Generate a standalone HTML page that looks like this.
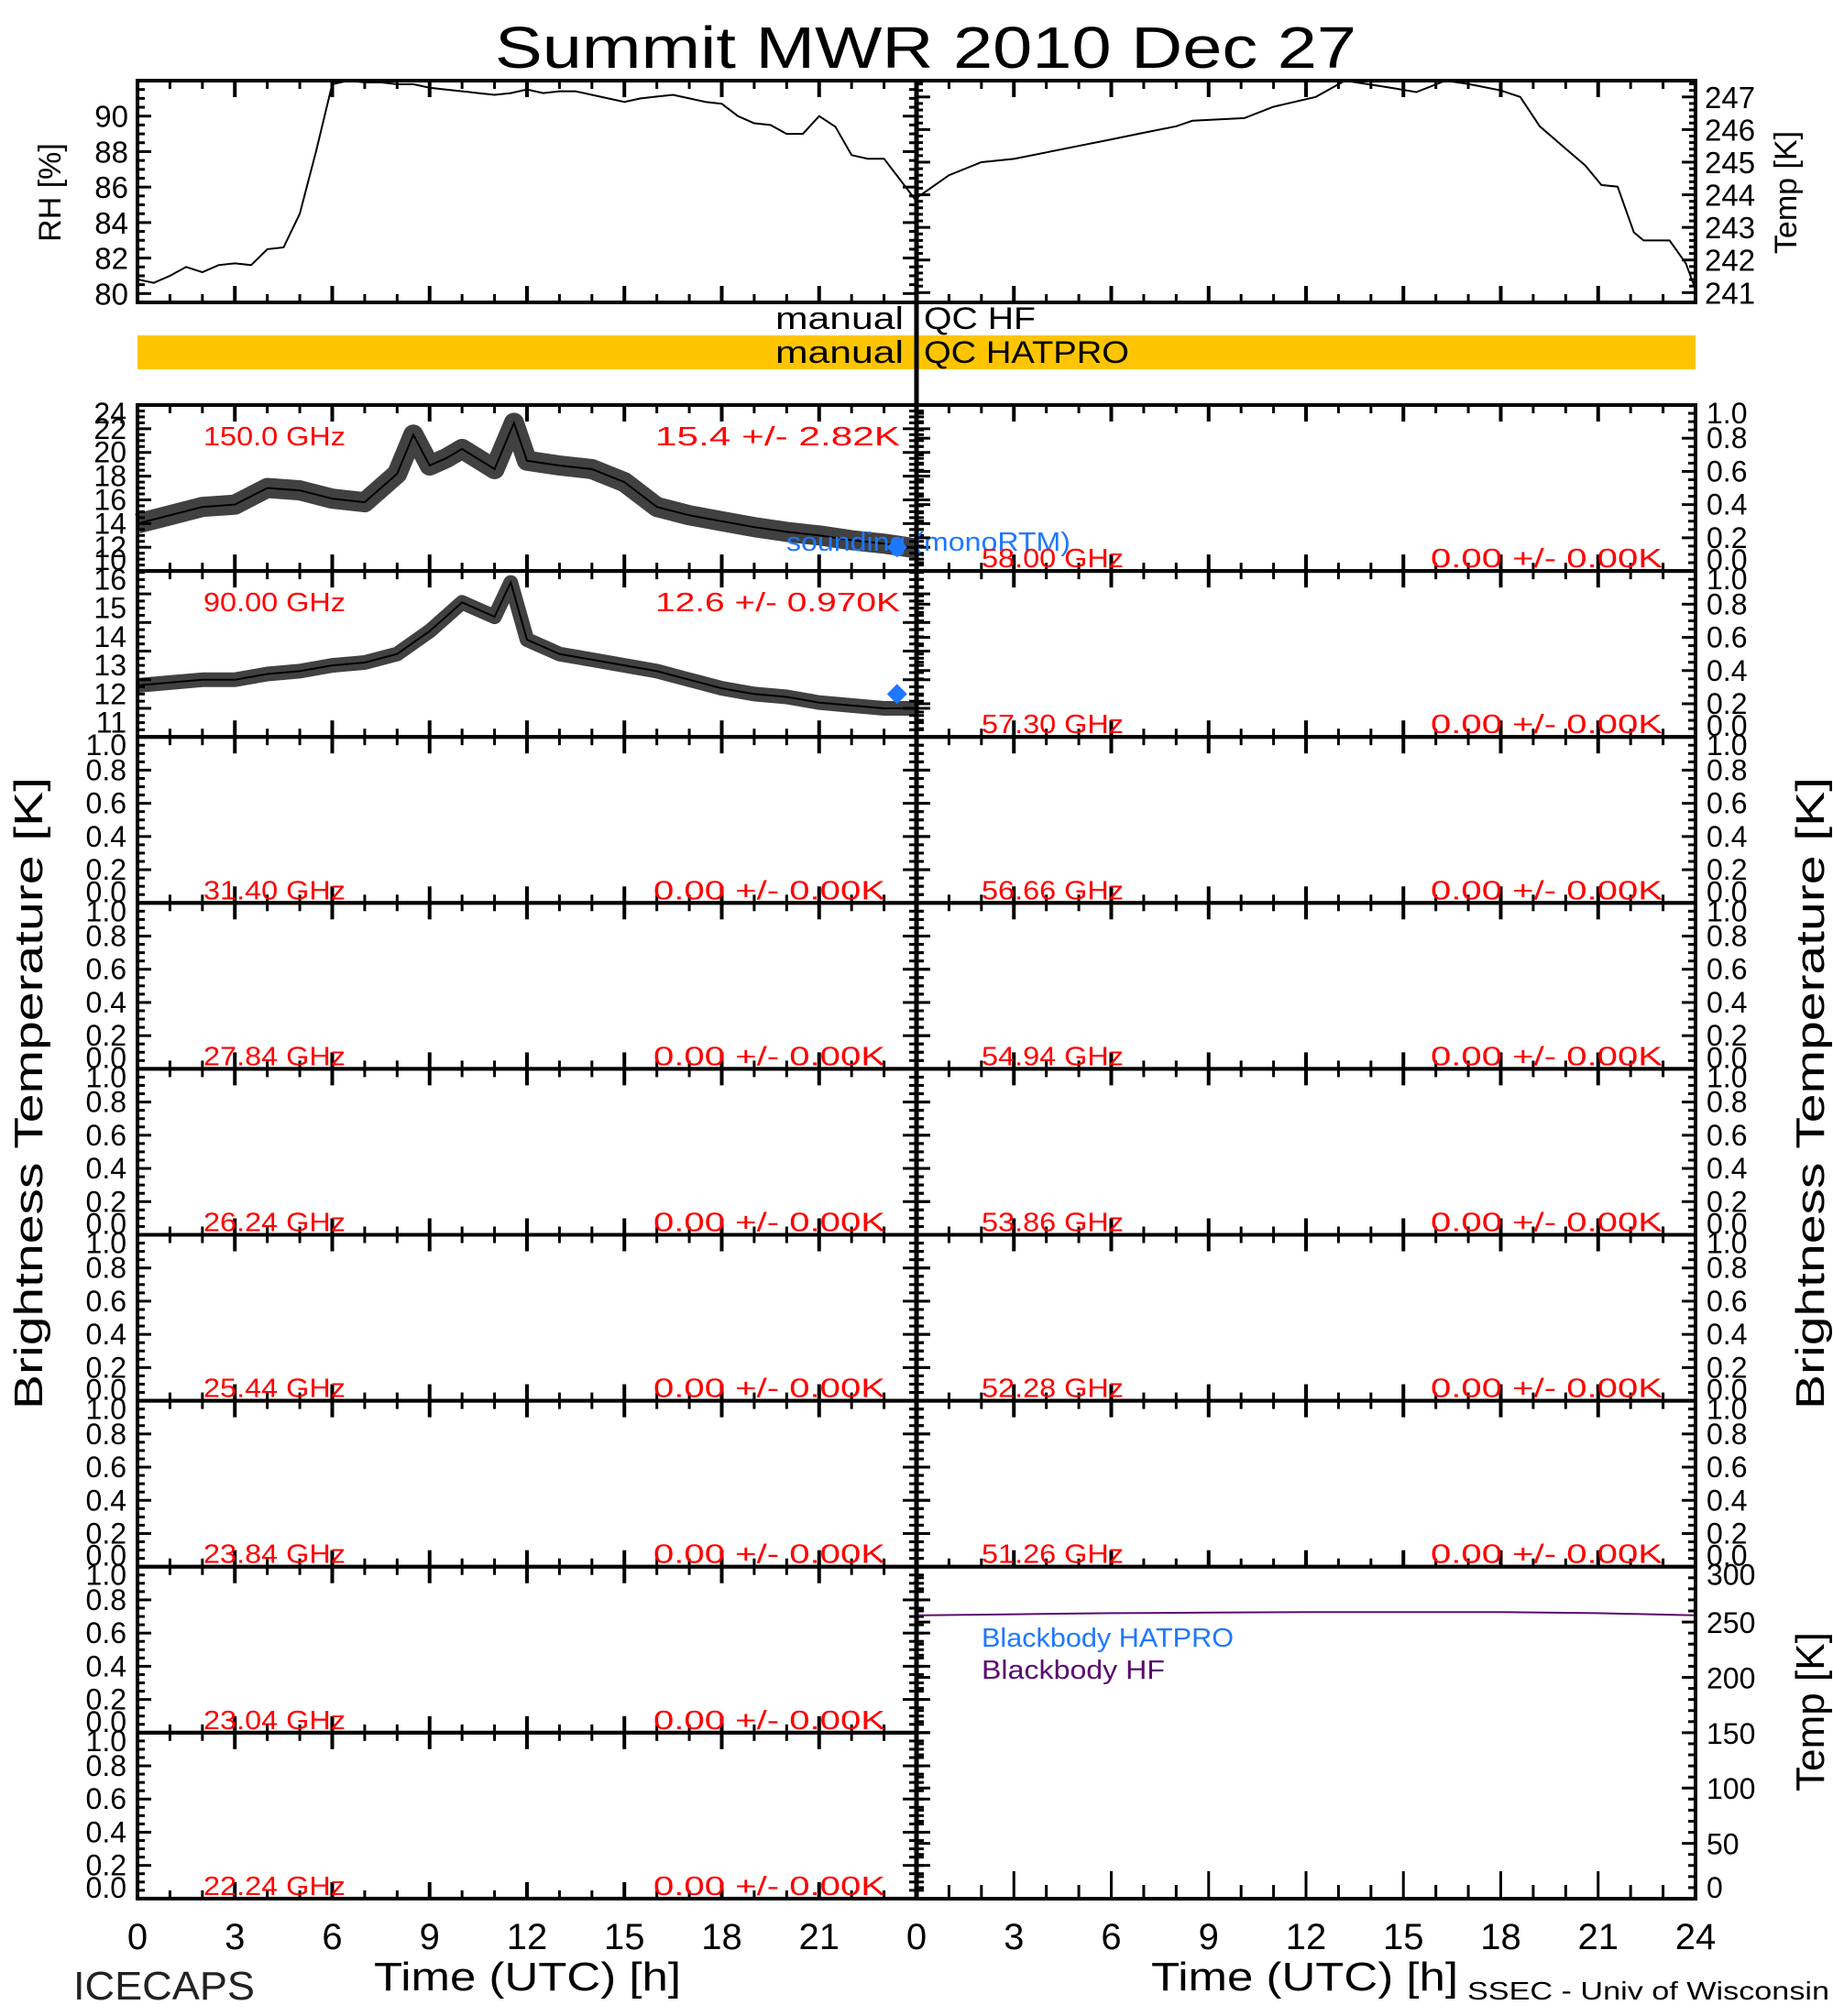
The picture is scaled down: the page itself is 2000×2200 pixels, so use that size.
<!DOCTYPE html>
<html><head><meta charset="utf-8"><style>
html,body{margin:0;padding:0;background:#fff;}
svg{display:block;}
text{font-family:"Liberation Sans",sans-serif;}
</style></head><body>
<svg id="chart" xmlns="http://www.w3.org/2000/svg" width="2000" height="2200" viewBox="0 0 2000 2200">
<rect width="2000" height="2200" fill="#fff"/>
<text x="540" y="74" font-size="64" textLength="940" lengthAdjust="spacingAndGlyphs">Summit  MWR  2010  Dec  27</text>
<g id="g"></g>
</svg>
<script>
// ---- data ----
const rhHours = [0,0.5,1,1.5,2,2.5,3,3.5,4,4.5,5,5.5,6,6.5,7,7.5,8,8.5,9,9.5,10,10.5,11,11.5,12,12.5,13,13.5,14,14.5,15,15.5,16,16.5,17,17.5,18,18.5,19,19.5,20,20.5,21,21.5,22,22.5,23,23.5,24];
const rhValues = [80.8,80.6,81.0,81.5,81.2,81.6,81.7,81.6,82.5,82.6,84.5,88.0,91.8,92.0,91.9,91.9,91.8,91.8,91.6,91.5,91.4,91.3,91.2,91.3,91.5,91.3,91.4,91.4,91.2,91.0,90.8,91.0,91.1,91.2,91.0,90.8,90.7,90.0,89.6,89.5,89.0,89.0,90.0,89.4,87.8,87.6,87.6,86.4,85.2];
const tempHours = [0,1,2,3,4,5,6,7,8,8.5,10.1,11,12.3,13.2,14.5,15.4,16.3,17,18,18.6,19.2,19.9,20.6,21.1,21.6,22.1,22.4,23.2,23.7,24];
const tempValues = [243.9,244.6,245.0,245.1,245.3,245.5,245.7,245.9,246.1,246.27,246.35,246.7,247.0,247.5,247.3,247.15,247.5,247.4,247.2,247.0,246.1,245.5,244.9,244.3,244.25,242.85,242.6,242.6,241.9,241.1];
const tb150Hours = [0,1,2,3,4,5,6,7,8,8.5,9,9.5,10,11,11.6,12,13,14,15,16,17,18,19,20,21,22,23,24];
const tb150Values = [14.0,14.7,15.4,15.6,17.0,16.8,16.1,15.8,18.2,21.5,18.9,19.5,20.3,18.6,22.5,19.3,18.9,18.6,17.5,15.4,14.7,14.2,13.7,13.3,13.0,12.6,12.3,11.9];
const tb90Hours = [0,1,2,3,4,5,6,7,8,9,10,11,11.5,12,13,14,15,16,17,18,19,20,21,22,23,24];
const tb90Values = [12.3,12.4,12.5,12.5,12.7,12.8,13.0,13.1,13.4,14.2,15.2,14.7,15.9,13.9,13.4,13.2,13.0,12.8,12.5,12.2,12.0,11.9,11.7,11.6,11.5,11.5];
const bbHours = [0,3,6,9,12,15,18,21,24];
const bbHfValues = [256,257,258,258.5,259,259,259,258,256];
const bbHatproValues = [0,0,0,0,0,0,0,0,0];
const leftFreqs = ["150.0 GHz","90.00 GHz","31.40 GHz","27.84 GHz","26.24 GHz","25.44 GHz","23.84 GHz","23.04 GHz","22.24 GHz"];
const leftStats = ["15.4 +/-  2.82K","12.6 +/- 0.970K","0.00 +/- 0.00K","0.00 +/- 0.00K","0.00 +/- 0.00K","0.00 +/- 0.00K","0.00 +/- 0.00K","0.00 +/- 0.00K","0.00 +/- 0.00K"];
const rightFreqs = ["58.00 GHz","57.30 GHz","56.66 GHz","54.94 GHz","53.86 GHz","52.28 GHz","51.26 GHz"];
const soundingHour = 23.4;
const sounding150 = 12.0;
const sounding90 = 12.0;
const xTickLabelsLeft = ["0","3","6","9","12","15","18","21"];
const xTickLabelsRight = ["0","3","6","9","12","15","18","21","24"];

// ---- layout ----
const NS="http://www.w3.org/2000/svg";
const G=document.getElementById('g');
const XL0=150, XL1=1000, XR0=1000, XR1=1850;
const P0=442, PH=181.1;
function el(tag,attrs,parent){const e=document.createElementNS(NS,tag);for(const k in attrs)e.setAttribute(k,attrs[k]);(parent||G).appendChild(e);return e;}
function txt(s,attrs){const e=el('text',attrs);e.textContent=s;return e;}
function xs(x0,x1){return h=>x0+(x1-x0)*h/24;}
function ys(top,bot,v0,v1){return v=>bot-(bot-top)*(v-v0)/(v1-v0);}
function line(x1,y1,x2,y2,w,c){return el('line',{x1,y1,x2,y2,stroke:c||'#000','stroke-width':w||3});}

function frame(x0,x1,top,bot,name){
  const r=el('rect',{x:x0,y:top,width:x1-x0,height:bot-top,fill:'none',stroke:'#000','stroke-width':4});
  
  
}
function xTicks(x0,x1,top,bot){
  const sx=xs(x0,x1);
  for(let h=0;h<=24;h++){
    const maj=h%3===0, L=maj?18:9;
    line(sx(h),top,sx(h),top+L,maj?4:3);
    line(sx(h),bot,sx(h),bot-L,maj?4:3);
  }
}
function yTicks(xa,dir,top,bot,v0,v1,majStep,minStep){
  const sy=ys(top,bot,v0,v1);
  const n=Math.round((v1-v0)/minStep);
  for(let i=0;i<=n;i++){
    const v=v0+i*minStep;
    const maj=Math.abs((v-v0)/majStep-Math.round((v-v0)/majStep))<1e-6;
    const L=maj?15:8;
    line(xa,sy(v),xa+dir*L,sy(v),3);
  }
}
function polyline(hours,vals,sx,sy,attrs,name){
  const pts=hours.map((h,i)=>sx(h).toFixed(1)+','+sy(vals[i]).toFixed(1)).join(' ');
  const p=el('polyline',Object.assign({points:pts,fill:'none'},attrs));
  
  
  return p;
}

// ---- RH panel ----
(function(){
  const top=88,bot=330;
  const sx=xs(XL0,XL1), sy=ys(top,bot,79.5,92.0);
  polyline(rhHours,rhValues,sx,sy,{stroke:'#000','stroke-width':2},'rh-line');
  frame(XL0,XL1,top,bot,'rh-panel');
  xTicks(XL0,XL1,top,bot);
  for(let v=80;v<=92;v+=0.5){const maj=v%2===0;line(XL0,sy(v),XL0+(maj?15:8),sy(v),3);line(XL1,sy(v),XL1-(maj?15:8),sy(v),3);}
  for(let v=80;v<=90;v+=2){const t=txt(String(v),{x:140,y:sy(v)+12,'font-size':33,'text-anchor':'end'});}
  const t=txt('RH [%]',{x:0,y:0,'font-size':34,'text-anchor':'middle',transform:'translate(66,210) rotate(-90)'});
  
})();
// ---- Temp panel ----
(function(){
  const top=88,bot=330;
  const sx=xs(XR0,XR1), sy=ys(top,bot,240.7,247.5);
  polyline(tempHours,tempValues,sx,sy,{stroke:'#000','stroke-width':2},'temp-line');
  frame(XR0,XR1,top,bot,'temp-panel');
  xTicks(XR0,XR1,top,bot);
  for(let v=241;v<=247.4;v+=0.2){const maj=Math.abs(v-Math.round(v))<1e-6;line(XR1,sy(v),XR1-(maj?15:7),sy(v),3);line(XR0,sy(v),XR0+(maj?15:7),sy(v),3);}
  for(let v=241;v<=247;v++){const t=txt(String(v),{x:1860,y:sy(v)+12,'font-size':33});}
  const t=txt('Temp [K]',{x:0,y:0,'font-size':34,'text-anchor':'middle',transform:'translate(1960,210) rotate(-90)'});
  
})();
// ---- QC bars ----
(function(){
  const b=el('rect',{x:150,y:366,width:1700,height:37,fill:'#fdc500'});
  
  let t=txt('manual',{x:986,y:359,'font-size':34,'text-anchor':'end',textLength:140,lengthAdjust:'spacingAndGlyphs'});
  t=txt('QC  HF',{x:1008,y:359,'font-size':34,textLength:122,lengthAdjust:'spacingAndGlyphs'});
  t=txt('manual',{x:986,y:396,'font-size':34,'text-anchor':'end',textLength:140,lengthAdjust:'spacingAndGlyphs'});
  t=txt('QC  HATPRO',{x:1008,y:396,'font-size':34,textLength:224,lengthAdjust:'spacingAndGlyphs'});
  line(1000,88,1000,2072,5);
})();
// ---- left TB panels ----
leftFreqs.forEach((f,i)=>{
  const top=P0+PH*i, bot=top+PH;
  const sx=xs(XL0,XL1);
  let v0=0,v1=1,maj=0.2,mn=0.05,labels=[0,0.2,0.4,0.6,0.8,1.0],fmt=v=>v.toFixed(1);
  if(i===0){v0=10;v1=24;maj=2;mn=0.5;labels=[10,12,14,16,18,20,22,24];fmt=v=>String(v);}
  if(i===1){v0=10.5;v1=16.3;maj=1;mn=0.25;labels=[11,12,13,14,15,16];fmt=v=>String(v);}
  const sy=ys(top,bot,v0,v1);
  if(i===0){
    polyline(tb150Hours,tb150Values,sx,sy,{stroke:'#111','stroke-width':22,'stroke-opacity':0.8,'stroke-linejoin':'round'},'tb-150-band');
    polyline(tb150Hours,tb150Values,sx,sy,{stroke:'#000','stroke-width':2},'tb-150-line');
  }
  if(i===1){
    polyline(tb90Hours,tb90Values,sx,sy,{stroke:'#111','stroke-width':16,'stroke-opacity':0.8,'stroke-linejoin':'round'},'tb-90-band');
    polyline(tb90Hours,tb90Values,sx,sy,{stroke:'#000','stroke-width':2},'tb-90-line');
  }
  frame(XL0,XL1,top,bot,'tb-panel-'+f.replace(/[ .]/g,''));
  xTicks(XL0,XL1,top,bot);
  yTicks(XL0,1,top,bot,v0,v1,maj,mn);
  yTicks(XL1,-1,top,bot,v0,v1,maj,mn);
  yTicks(XL1,1,top,bot,v0,v1,maj,mn);
  labels.forEach(v=>{
    let y=sy(v)+11; if(v===v1||(i<2&&v===labels[labels.length-1]&&sy(v)-top<15)) y=Math.max(y,top+20); if(v===v0) y=bot-1;
    const t=txt(fmt(v),{x:138,y:y,'font-size':32,'text-anchor':'end'});
    
  });
  const fy=i<2?top+44:bot-4;
  let t=txt(f,{x:222,y:fy,'font-size':29,fill:'#ff0000',textLength:155,lengthAdjust:'spacingAndGlyphs'});
  t=txt(leftStats[i],{x:i<2?982:966,y:fy,'font-size':29,fill:'#ff0000','text-anchor':'end',textLength:i<2?267:253,lengthAdjust:'spacingAndGlyphs'});
  if(i===0){
    const p=el('path',{d:`M${sx(soundingHour)},${sy(sounding150)-11} l11,11 l-11,11 l-11,-11 z`,fill:'#1e78ff'});
    
    t=txt('sounding  (monoRTM)',{x:858,y:601,'font-size':29,fill:'#1e78ff',textLength:310,lengthAdjust:'spacingAndGlyphs'});
    
  }
  if(i===1){
    const p=el('path',{d:`M${sx(soundingHour)},${sy(sounding90)-11} l11,11 l-11,11 l-11,-11 z`,fill:'#1e78ff'});
    
  }
});
// ---- right TB panels ----
rightFreqs.forEach((f,i)=>{
  const top=P0+PH*i, bot=top+PH;
  const sy=ys(top,bot,0,1);
  frame(XR0,XR1,top,bot,'tb-panel-'+f.replace(/[ .]/g,''));
  xTicks(XR0,XR1,top,bot);
  yTicks(XR1,-1,top,bot,0,1,0.2,0.05);
  yTicks(XR0,1,top,bot,0,1,0.2,0.05);
  [0,0.2,0.4,0.6,0.8,1.0].forEach(v=>{
    let y=sy(v)+11; if(v===1) y=top+20; if(v===0) y=bot-1;
    const t=txt(v.toFixed(1),{x:1862,y:y,'font-size':32});
    
  });
  let t=txt(f,{x:1071,y:bot-4,'font-size':29,fill:'#ff0000',textLength:155,lengthAdjust:'spacingAndGlyphs'});
  t=txt('0.00 +/- 0.00K',{x:1814,y:bot-4,'font-size':29,fill:'#ff0000','text-anchor':'end',textLength:253,lengthAdjust:'spacingAndGlyphs'});
});
// ---- blackbody panel ----
(function(){
  const top=P0+PH*7, bot=2072;
  const sx=xs(XR0,XR1), sy=ys(top,bot,0,300);
  polyline(bbHours,bbHfValues,sx,sy,{stroke:'#5a0a6e','stroke-width':2},'bb-hf-line');
  polyline(bbHours,bbHatproValues,sx,sy,{stroke:'#1e78ff','stroke-width':3},'bb-hatpro-line');
  frame(XR0,XR1,top,bot,'bb-panel');
  for(let h=0;h<=24;h++){const maj=h%3===0;line(sx(h),bot,sx(h),bot-(maj?30:15),3);}
  for(let v=0;v<=300;v+=10){const maj=v%50===0;line(XR1,sy(v),XR1-(maj?15:8),sy(v),3);line(XR0,sy(v),XR0+(maj?15:8),sy(v),3);}
  for(let v=0;v<=300;v+=50){const t=txt(String(v),{x:1862,y:v===300?top+20:(v===0?bot-1:sy(v)+12),'font-size':32});}
  let t=txt('Blackbody  HATPRO',{x:1071,y:1797,'font-size':29,fill:'#1e78ff',textLength:275,lengthAdjust:'spacingAndGlyphs'});
  t=txt('Blackbody  HF',{x:1071,y:1832,'font-size':29,fill:'#5a0a6e',textLength:200,lengthAdjust:'spacingAndGlyphs'});
  t=txt('Temp [K]',{x:0,y:0,'font-size':44,'text-anchor':'middle',transform:'translate(1990,1868) rotate(-90)'});
})();
// ---- axis titles ----
(function(){
  const sl=xs(XL0,XL1), sr=xs(XR0,XR1);
  xTickLabelsLeft.forEach((s,i)=>{const t=txt(s,{x:sl(i*3),y:2127,'font-size':40,'text-anchor':'middle'});});
  xTickLabelsRight.forEach((s,i)=>{const t=txt(s,{x:sr(i*3),y:2127,'font-size':40,'text-anchor':'middle'});});
  let t=txt('Time (UTC) [h]',{x:408,y:2172,'font-size':44,textLength:335,lengthAdjust:'spacingAndGlyphs'});
  t=txt('Time (UTC) [h]',{x:1256,y:2172,'font-size':44,textLength:335,lengthAdjust:'spacingAndGlyphs'});
  t=txt('ICECAPS',{x:80,y:2182,'font-size':44,fill:'#222',textLength:198,lengthAdjust:'spacingAndGlyphs'});
  t=txt('SSEC  -  Univ  of  Wisconsin',{x:1601,y:2182,'font-size':28,textLength:395,lengthAdjust:'spacingAndGlyphs'});
  t=txt('Brightness  Temperature  [K]',{x:0,y:0,'font-size':44,'text-anchor':'middle',textLength:690,lengthAdjust:'spacingAndGlyphs',transform:'translate(46,1193) rotate(-90)'});
  t=txt('Brightness  Temperature  [K]',{x:0,y:0,'font-size':44,'text-anchor':'middle',textLength:690,lengthAdjust:'spacingAndGlyphs',transform:'translate(1990,1193) rotate(-90)'});
})();
</script>
</body></html>
